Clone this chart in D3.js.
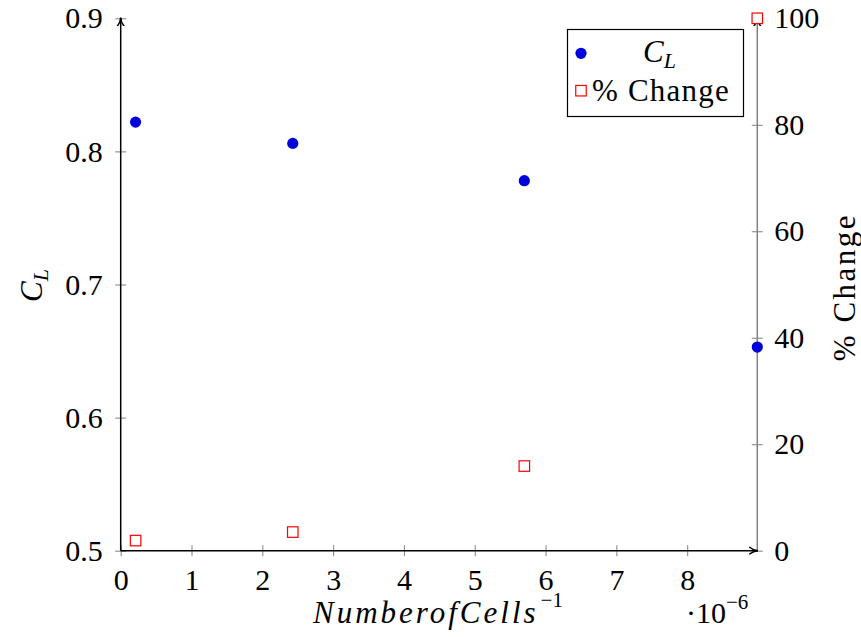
<!DOCTYPE html>
<html>
<head>
	<meta charset=utf-8>
	<title>CL vs cells</title>
	<script src="https://d3js.org/d3.v7.min.js"></script>
	<style type="text/css">
		body{
			margin: 0;
			background: #fff;
		}
		#chart, #chart text{
			font-family: 'Liberation Serif';
		}
	</style>
</head>
<body>
	<svg id="chart" width="861" height="637" font-family="Liberation Serif"></svg>

	<script type="text/javascript">
		// values
		const cellsInv = [0.21, 2.43, 5.70, 8.99];
		const cl = [0.822, 0.806, 0.778, 0.653];
		const pctChange = [1.9, 3.5, 15.9, 100];

		const xTicks = [0, 1, 2, 3, 4, 5, 6, 7, 8];
		const clTicks = [0.5, 0.6, 0.7, 0.8, 0.9];
		const pctTicks = [0, 20, 40, 60, 80, 100];

		const plotLeft = 120.7, plotRight = 757.3, plotTop = 18.3, plotBottom = 550.7;
		const grey = '#808080';
		const FONT = 'Liberation Serif';

		const svg = d3.select('#chart');

		const defs = svg.append('defs');
		defs.append('marker')
			.attr('id', 'arrow')
			.attr('viewBox', '0 0 10 10')
			.attr('refX', 9)
			.attr('refY', 5)
			.attr('markerWidth', 9)
			.attr('markerHeight', 9)
			.attr('markerUnits', 'userSpaceOnUse')
			.attr('orient', 'auto')
			.append('path')
			.attr('d', 'M0,1 Q5,5 10,5 Q5,5 0,9')
			.attr('fill', 'none')
			.attr('stroke', '#000')
			.attr('stroke-width', 1.6);

		const x = d3.scaleLinear()
			.domain([0, d3.max(cellsInv)])
			.range([plotLeft, plotRight]);

		const yL = d3.scaleLinear()
			.domain([0.5, 0.9])
			.range([plotBottom, plotTop]);

		const yR = d3.scaleLinear()
			.domain([0, 100])
			.range([plotBottom, plotTop]);

		function styleAxis(g, horizontal){
			g.attr('font-family', FONT).attr('font-size', 30);
			g.select('.domain').remove();
			g.selectAll('.tick line')
				.attr('stroke', grey)
				.attr('stroke-width', 1);
			if(horizontal){
				g.selectAll('.tick line').attr('y1', -5.5).attr('y2', 5.5);
			} else {
				g.selectAll('.tick line').attr('x1', -5.5).attr('x2', 5.5);
			}
			g.selectAll('.tick text')
				.attr('font-family', FONT)
				.attr('font-size', 30)
				.attr('fill', '#000');
		}

		// right axis (grey)
		svg.append('line')
			.attr('x1', plotRight).attr('x2', plotRight)
			.attr('y1', plotBottom).attr('y2', plotTop)
			.attr('stroke', grey)
			.attr('stroke-width', 1.5)
			.attr('marker-end', 'url(#arrow)');

		const gR = svg.append('g')
			.attr('transform', `translate(${plotRight},0)`)
			.call(d3.axisRight(yR).tickValues(pctTicks).tickSizeOuter(0).tickPadding(11));
		styleAxis(gR, false);

		// left axis
		const gL = svg.append('g')
			.attr('transform', `translate(${plotLeft},0)`)
			.call(d3.axisLeft(yL).tickValues(clTicks).tickFormat(d3.format('.1f')).tickSizeOuter(0).tickPadding(12));
		styleAxis(gL, false);

		// bottom axis
		const gX = svg.append('g')
			.attr('transform', `translate(0,${plotBottom})`)
			.call(d3.axisBottom(x).tickValues(xTicks).tickFormat(d3.format('d')).tickSizeOuter(0).tickPadding(12));
		styleAxis(gX, true);

		svg.append('line')
			.attr('x1', plotLeft).attr('x2', plotLeft)
			.attr('y1', plotBottom).attr('y2', plotTop)
			.attr('stroke', '#000')
			.attr('stroke-width', 1.5)
			.attr('marker-end', 'url(#arrow)');

		svg.append('line')
			.attr('x1', plotLeft).attr('x2', plotRight)
			.attr('y1', plotBottom).attr('y2', plotBottom)
			.attr('stroke', '#000')
			.attr('stroke-width', 1.5)
			.attr('marker-end', 'url(#arrow)');

		// data
		svg.append('g')
			.selectAll('circle')
			.data(cellsInv)
			.enter()
			.append('circle')
			.attr('cx', d => x(d))
			.attr('cy', (d, i) => yL(cl[i]))
			.attr('r', 5.6)
			.attr('fill', '#0000dd');

		const sq = 10.5;
		svg.append('g')
			.selectAll('rect')
			.data(cellsInv)
			.enter()
			.append('rect')
			.attr('x', d => x(d) - sq / 2)
			.attr('y', (d, i) => yR(pctChange[i]) - sq / 2)
			.attr('width', sq)
			.attr('height', sq)
			.attr('fill', '#fff')
			.attr('stroke', '#ff0000')
			.attr('stroke-width', 1.2);

		// axis labels
		const xl = svg.append('text')
			.attr('x', 313)
			.attr('y', 623)
			.attr('font-family', FONT)
			.attr('font-size', 31);
		xl.append('tspan')
			.attr('font-style', 'italic')
			.attr('letter-spacing', 3)
			.text('NumberofCells');
		xl.append('tspan')
			.attr('dy', -16)
			.attr('dx', 2)
			.attr('font-size', 21)
			.text('\u22121');

		const sc = svg.append('text')
			.attr('x', 686)
			.attr('y', 623)
			.attr('font-family', FONT)
			.attr('font-size', 30);
		sc.append('tspan').text('\u00b710');
		sc.append('tspan')
			.attr('dy', -14)
			.attr('font-size', 21)
			.text('\u22126');

		const yl = svg.append('text')
			.attr('transform', 'translate(42,302) rotate(-90)')
			.attr('font-family', FONT)
			.attr('font-size', 31);
		yl.append('tspan').attr('font-style', 'italic').text('C');
		yl.append('tspan')
			.attr('dy', 6)
			.attr('font-size', 22)
			.attr('font-style', 'italic')
			.text('L');

		svg.append('text')
			.attr('transform', 'translate(855,287) rotate(-90)')
			.attr('text-anchor', 'middle')
			.attr('font-family', FONT)
			.attr('font-size', 31)
			.attr('letter-spacing', 2.5)
			.text('% Change');

		// legend
		const lg = svg.append('g');
		lg.append('rect')
			.attr('x', 567.5).attr('y', 29.5)
			.attr('width', 176).attr('height', 87)
			.attr('fill', '#fff')
			.attr('stroke', '#000')
			.attr('stroke-width', 1.2);
		lg.append('circle')
			.attr('cx', 581).attr('cy', 53.3).attr('r', 5.6)
			.attr('fill', '#0000dd');
		lg.append('rect')
			.attr('x', 581 - sq / 2).attr('y', 90.7 - sq / 2)
			.attr('width', sq).attr('height', sq)
			.attr('fill', '#fff')
			.attr('stroke', '#ff0000')
			.attr('stroke-width', 1.2);
		const lt = lg.append('text')
			.attr('x', 643).attr('y', 62)
			.attr('font-family', FONT)
			.attr('font-size', 31);
		lt.append('tspan').attr('font-style', 'italic').text('C');
		lt.append('tspan')
			.attr('dy', 6)
			.attr('font-size', 22)
			.attr('font-style', 'italic')
			.text('L');
		lg.append('text')
			.attr('x', 592).attr('y', 101)
			.attr('font-family', FONT)
			.attr('font-size', 31)
			.attr('letter-spacing', 1.2)
			.text('% Change');
	</script>
</body>
</html>
